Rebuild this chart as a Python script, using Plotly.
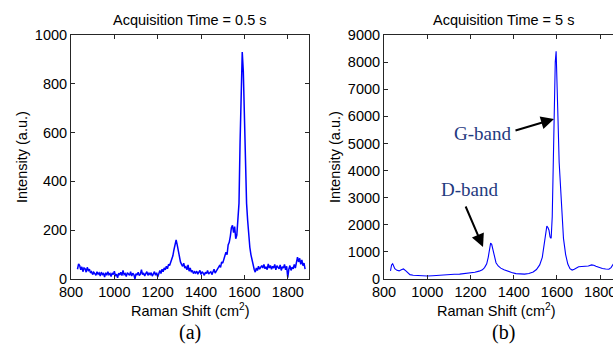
import numpy as np
import plotly.graph_objects as go

# ---- Data: (a) acquisition time 0.5 s, Raman shift grid 830..1880 step 5
shift_a = list(range(830, 1885, 5))
intensity_a = [
    40, 62, 55, 38, 50, 30, 45, 42, 28, 48,
    35, 40, 25, 30, 18, 28, 22, 15, 30, 20,
    25, 12, 28, 18, 22, 8, 26, 15, 30, 18,
    22, 10, 25, 18, 32, 12, 20, 5, 24, 16,
    28, 14, 35, 18, 22, 10, 26, 20, 15, 30,
    12, 24, 18, 0, 22, 16, 28, 14, 20, 38,
    18, 25, 12, 22, 30, 15, 24, 18, 26, 12,
    22, 30, 15, 26, 8, 28, 35, 22, 40, 30,
    45, 38, 52, 42, 60, 55, 70, 78, 95, 120,
    145, 160, 140, 110, 85, 70, 60, 52, 65, 45,
    50, 38, 58, 32, 45, 28, 35, 22, 30, 25,
    32, 20, 28, 35, 18, 30, 24, 15, 28, 22,
    35, 20, 26, 30, 18, 28, 40, 24, 32, 38,
    45, 55, 48, 70, 65, 85, 95, 110, 100, 140,
    150, 175, 210, 220, 190, 215, 165, 180, 240, 310,
    560, 820, 930, 850, 620, 440, 310, 240, 175, 130,
    100, 75, 55, 40, 28, 45, 35, 52, 40, 48,
    55, 45, 60, 42, 50, 38, 62, 45, 55, 40,
    52, 45, 60, 38, 55, 48, 42, 58, 35, 50,
    45, 60, 38, 52, 5, 40, 55, 35, 48, 42,
    60, 45, 75, 90, 70, 85, 60, 78, 55, 65,
    40,
]

# ---- Data: (b) acquisition time 5 s
shift_b = [830, 835, 840, 845, 850, 860, 870, 880, 890, 900, 910, 920, 935, 950,
           975, 1000, 1025, 1050, 1075, 1100, 1125, 1150, 1175, 1200, 1220, 1240,
           1255, 1265, 1275, 1282, 1288, 1293, 1298, 1304, 1310, 1318, 1328, 1340,
           1355, 1370, 1390, 1410, 1430, 1450, 1470, 1490, 1505, 1520, 1532, 1542,
           1548, 1553, 1558, 1563, 1568, 1573, 1578, 1583, 1588, 1592, 1596, 1600,
           1605, 1610, 1616, 1622, 1630, 1640, 1650, 1660, 1670, 1680, 1690, 1700,
           1715, 1730, 1745, 1760, 1770, 1780, 1795, 1810, 1825, 1840, 1850, 1860,
           1870, 1880]
intensity_b = [300, 520, 560, 450, 380, 320, 300, 340, 370, 310, 220, 160, 140, 130,
               120, 110, 120, 140, 160, 170, 175, 180, 200, 220, 250, 290,
               340, 420, 560, 800, 1150, 1320, 1280, 1050, 800, 600, 480, 400,
               340, 290, 240, 200, 180, 180, 200, 260, 350, 520, 800, 1300,
               1750, 1950, 1900, 1800, 1550, 1500, 2300, 4200, 6800, 8000, 8400, 7500,
               5800, 4300, 3300, 2400, 1500, 900, 550, 380, 330, 360, 400, 450,
               460, 470, 480, 520, 510, 470, 420, 390, 370, 360, 420, 560,
               700, 800]

W, H = 613, 344
# plot areas in pixels
ax_a = (71, 309)
ax_b = (384, 613)
y_top, y_bot = 35, 279

def px(x):
    return x / W

def py(y):
    return 1 - y / H

fig = go.Figure()
fig.add_trace(go.Scatter(x=shift_a, y=intensity_a, mode="lines",
                         line=dict(color="#0000ff", width=1.5), xaxis="x", yaxis="y",
                         showlegend=False))
fig.add_trace(go.Scatter(x=shift_b, y=intensity_b, mode="lines",
                         line=dict(color="#0000ff", width=1.1), xaxis="x2", yaxis="y2",
                         showlegend=False))

font_main = "Liberation Sans, Arial, sans-serif"
font_serif = "Liberation Serif, Times New Roman, serif"
FS = 14.5
tickfont = dict(family=font_main, size=FS, color="#000000")

common_axis = dict(showgrid=False, zeroline=False, showline=True, linecolor="#262626",
                   linewidth=1, ticks="inside", ticklen=4, tickcolor="#262626",
                   tickfont=tickfont, automargin=False, ticklabeloverflow="allow")

fig.update_layout(
    template="none",
    width=W, height=H,
    margin=dict(l=0, r=0, t=0, b=0, pad=0),
    font=dict(family=font_main, size=FS, color="#000000"),
    paper_bgcolor="white", plot_bgcolor="white",
    xaxis=dict(domain=[px(ax_a[0]), px(ax_a[1])], range=[800, 1898],
               tickvals=[800, 1000, 1200, 1400, 1600, 1800], mirror="ticks",
               anchor="y", **common_axis),
    yaxis=dict(domain=[py(y_bot), py(y_top)], range=[0, 1000],
               tickvals=[0, 200, 400, 600, 800, 1000], mirror="ticks",
               anchor="x", **common_axis),
    xaxis2=dict(domain=[px(ax_b[0]), 1.0], range=[800, 1859],
                tickvals=[800, 1000, 1200, 1400, 1600, 1800], mirror="ticks",
                anchor="y2", **common_axis),
    yaxis2=dict(domain=[py(y_bot), py(y_top)], range=[0, 9000],
                tickvals=list(range(0, 9001, 1000)), mirror=False,
                anchor="x2", **common_axis),
)

ann = []
def text(x, y, s, size=FS, family=font_main, color="#000000", angle=0):
    ann.append(dict(x=px(x), y=py(y), xref="paper", yref="paper", text=s,
                    showarrow=False, textangle=angle,
                    font=dict(family=family, size=size, color=color),
                    xanchor="center", yanchor="middle"))

text(190, 20, "Acquisition Time = 0.5 s")
text(503, 20, "Acquisition Time = 5 s")
text(190, 310, "Raman Shift (cm<sup>2</sup>)")
text(496, 310, "Raman Shift (cm<sup>2</sup>)")
text(22, 157, "Intensity (a.u.)", angle=-90)
text(335, 157, "Intensity (a.u.)", angle=-90)
text(190, 332, "(a)", size=20, family=font_serif)
text(503, 332, "(b)", size=20, family=font_serif)
text(482, 133, "G-band", size=19, family=font_serif, color="#1f3a80")
text(469, 189, "D-band", size=19, family=font_serif, color="#1f3a80")

# arrows (tail -> head), offsets in pixels
for (x0, y0, x1, y1) in [(514, 131, 554, 119), (465, 205, 483, 247)]:
    ann.append(dict(x=px(x1), y=py(y1), ax=x0 - x1, ay=y0 - y1, xref="paper", yref="paper",
                    showarrow=True, arrowhead=2,
                    arrowsize=1.3, arrowwidth=2, arrowcolor="#000000", text=""))

fig.update_layout(annotations=ann)
fig.write_html("out.html")
